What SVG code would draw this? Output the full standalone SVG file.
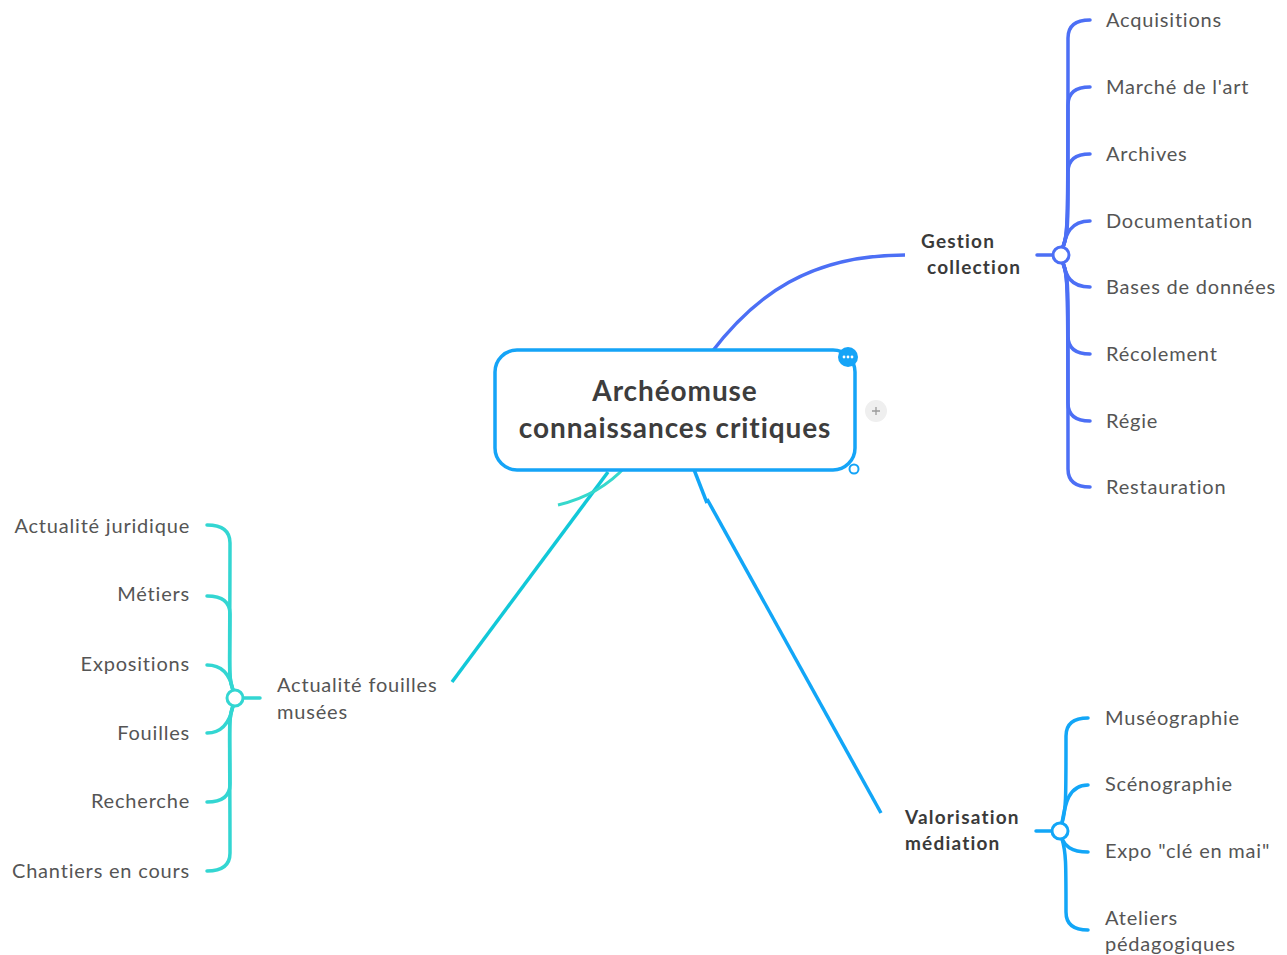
<svg xmlns="http://www.w3.org/2000/svg" width="1287" height="955" viewBox="0 0 1287 955">
<style>
.t{font-family:Lato,"Open Sans","Liberation Sans",sans-serif;font-size:20px;letter-spacing:0.8px;fill:#555}
.b{font-family:Lato,"Open Sans","Liberation Sans",sans-serif;font-size:19px;font-weight:bold;letter-spacing:1.2px;fill:#3a3a3a}
.c{font-family:Lato,"Open Sans","Liberation Sans",sans-serif;font-size:28px;font-weight:bold;letter-spacing:0.9px;fill:#3d3d3d}
.gb{fill:none;stroke:#4c6ff5;stroke-width:3.5;stroke-linecap:round}
.tb{fill:none;stroke:#33d6d2;stroke-width:3.5;stroke-linecap:round}
.vb{fill:none;stroke:#12a6f7;stroke-width:3.5;stroke-linecap:round}
.hub{fill:#fff;stroke-width:3}
</style>
<rect width="1287" height="955" fill="#fff"/>
<g id="connectors">
<path d="M711,353 C755,295 810,255 905,255" fill="none" stroke="#4c6ff5" stroke-width="3.5"/>
<path d="M452,682 L608,472" fill="none" stroke="#12c8d8" stroke-width="3.5"/>
<path d="M558,505 Q600,495 626,466" fill="none" stroke="#36d8cc" stroke-width="3"/>
<path d="M693,467 L707,503" fill="none" stroke="#12a6f7" stroke-width="3.5"/>
<path d="M707,499 L881,813" fill="none" stroke="#12a6f7" stroke-width="3.5"/>
</g>
<g id="central">
<rect x="495" y="350" width="360" height="120" rx="22" fill="#fff" stroke="#15a4f7" stroke-width="3.5"/>
<text class="c" x="675" y="401" text-anchor="middle">Archéomuse</text>
<text class="c" x="675" y="438" text-anchor="middle">connaissances critiques</text>
<circle cx="848" cy="357" r="10" fill="#15a4f7"/>
<circle cx="844" cy="357" r="1.4" fill="#fff"/>
<circle cx="848" cy="357" r="1.4" fill="#fff"/>
<circle cx="852" cy="357" r="1.4" fill="#fff"/>
<circle cx="854" cy="469" r="4.5" fill="#fff" stroke="#15a4f7" stroke-width="2"/>
<circle cx="876" cy="411" r="11" fill="#efefef"/>
<path d="M872,411 H880 M876,407 V415" stroke="#9a9a9a" stroke-width="1.3"/>
</g>
<g id="gestion">
<text class="b" x="921" y="248">Gestion</text>
<text class="b" x="927" y="274">collection</text>
<path class="gb" d="M1037,255 H1053"/>
<path class="gb" d="M1063,247 C1068,235 1068,225 1068,38 Q1068,20 1090,20"/>
<path class="gb" d="M1063,247 C1068,235 1068,225 1068,105 Q1068,87 1090,87"/>
<path class="gb" d="M1063,247 C1068,235 1068,225 1068,172 Q1068,154 1090,154"/>
<path class="gb" d="M1063,247 C1066,235 1070,221 1090,221"/>
<path class="gb" d="M1063,263 C1066,275 1070,287 1090,287"/>
<path class="gb" d="M1063,263 C1068,275 1068,285 1068,336 Q1068,354 1090,354"/>
<path class="gb" d="M1063,263 C1068,275 1068,285 1068,403 Q1068,421 1090,421"/>
<path class="gb" d="M1063,263 C1068,275 1068,285 1068,469 Q1068,487 1090,487"/>
<circle class="hub" cx="1061" cy="255" r="8" stroke="#4c6ff5"/>
<text class="t" x="1106" y="27">Acquisitions</text>
<text class="t" x="1106" y="94">Marché de l'art</text>
<text class="t" x="1106" y="161">Archives</text>
<text class="t" x="1106" y="228">Documentation</text>
<text class="t" x="1106" y="294">Bases de données</text>
<text class="t" x="1106" y="361">Récolement</text>
<text class="t" x="1106" y="428">Régie</text>
<text class="t" x="1106" y="494">Restauration</text>
</g>
<g id="actualite">
<text class="t" x="277" y="692">Actualité fouilles</text>
<text class="t" x="277" y="719">musées</text>
<path class="tb" d="M260,698 H243"/>
<path class="tb" d="M233,690 C228,678 230,668 230,543 Q230,525 207,525"/>
<path class="tb" d="M233,690 C228,678 230,668 230,614 Q230,596 207,596"/>
<path class="tb" d="M233,690 C231,680 226,665 207,665"/>
<path class="tb" d="M233,706 C231,716 226,733 207,733"/>
<path class="tb" d="M233,706 C228,718 230,728 230,784 Q230,802 207,802"/>
<path class="tb" d="M233,706 C228,718 230,728 230,853 Q230,871 207,871"/>
<circle class="hub" cx="235" cy="698" r="8" stroke="#33d6d2"/>
<text class="t" x="190" y="533" text-anchor="end">Actualité juridique</text>
<text class="t" x="190" y="601" text-anchor="end">Métiers</text>
<text class="t" x="190" y="671" text-anchor="end">Expositions</text>
<text class="t" x="190" y="740" text-anchor="end">Fouilles</text>
<text class="t" x="190" y="808" text-anchor="end">Recherche</text>
<text class="t" x="190" y="878" text-anchor="end">Chantiers en cours</text>
</g>
<g id="valorisation">
<text class="b" x="905" y="824">Valorisation</text>
<text class="b" x="905" y="850">médiation</text>
<path class="vb" d="M1036,831 H1052"/>
<path class="vb" d="M1062,823 C1066,810 1066,800 1066,736 Q1066,718 1088,718"/>
<path class="vb" d="M1062,823 C1065,805 1068,785 1088,785"/>
<path class="vb" d="M1062,839 C1065,845 1070,852 1088,852"/>
<path class="vb" d="M1062,839 C1066,852 1066,862 1066,912 Q1066,930 1088,930"/>
<circle class="hub" cx="1060" cy="831" r="8" stroke="#12a6f7"/>
<text class="t" x="1105" y="725">Muséographie</text>
<text class="t" x="1105" y="791">Scénographie</text>
<text class="t" x="1105" y="858">Expo "clé en mai"</text>
<text class="t" x="1105" y="925">Ateliers</text>
<text class="t" x="1105" y="951">pédagogiques</text>
</g>
</svg>
